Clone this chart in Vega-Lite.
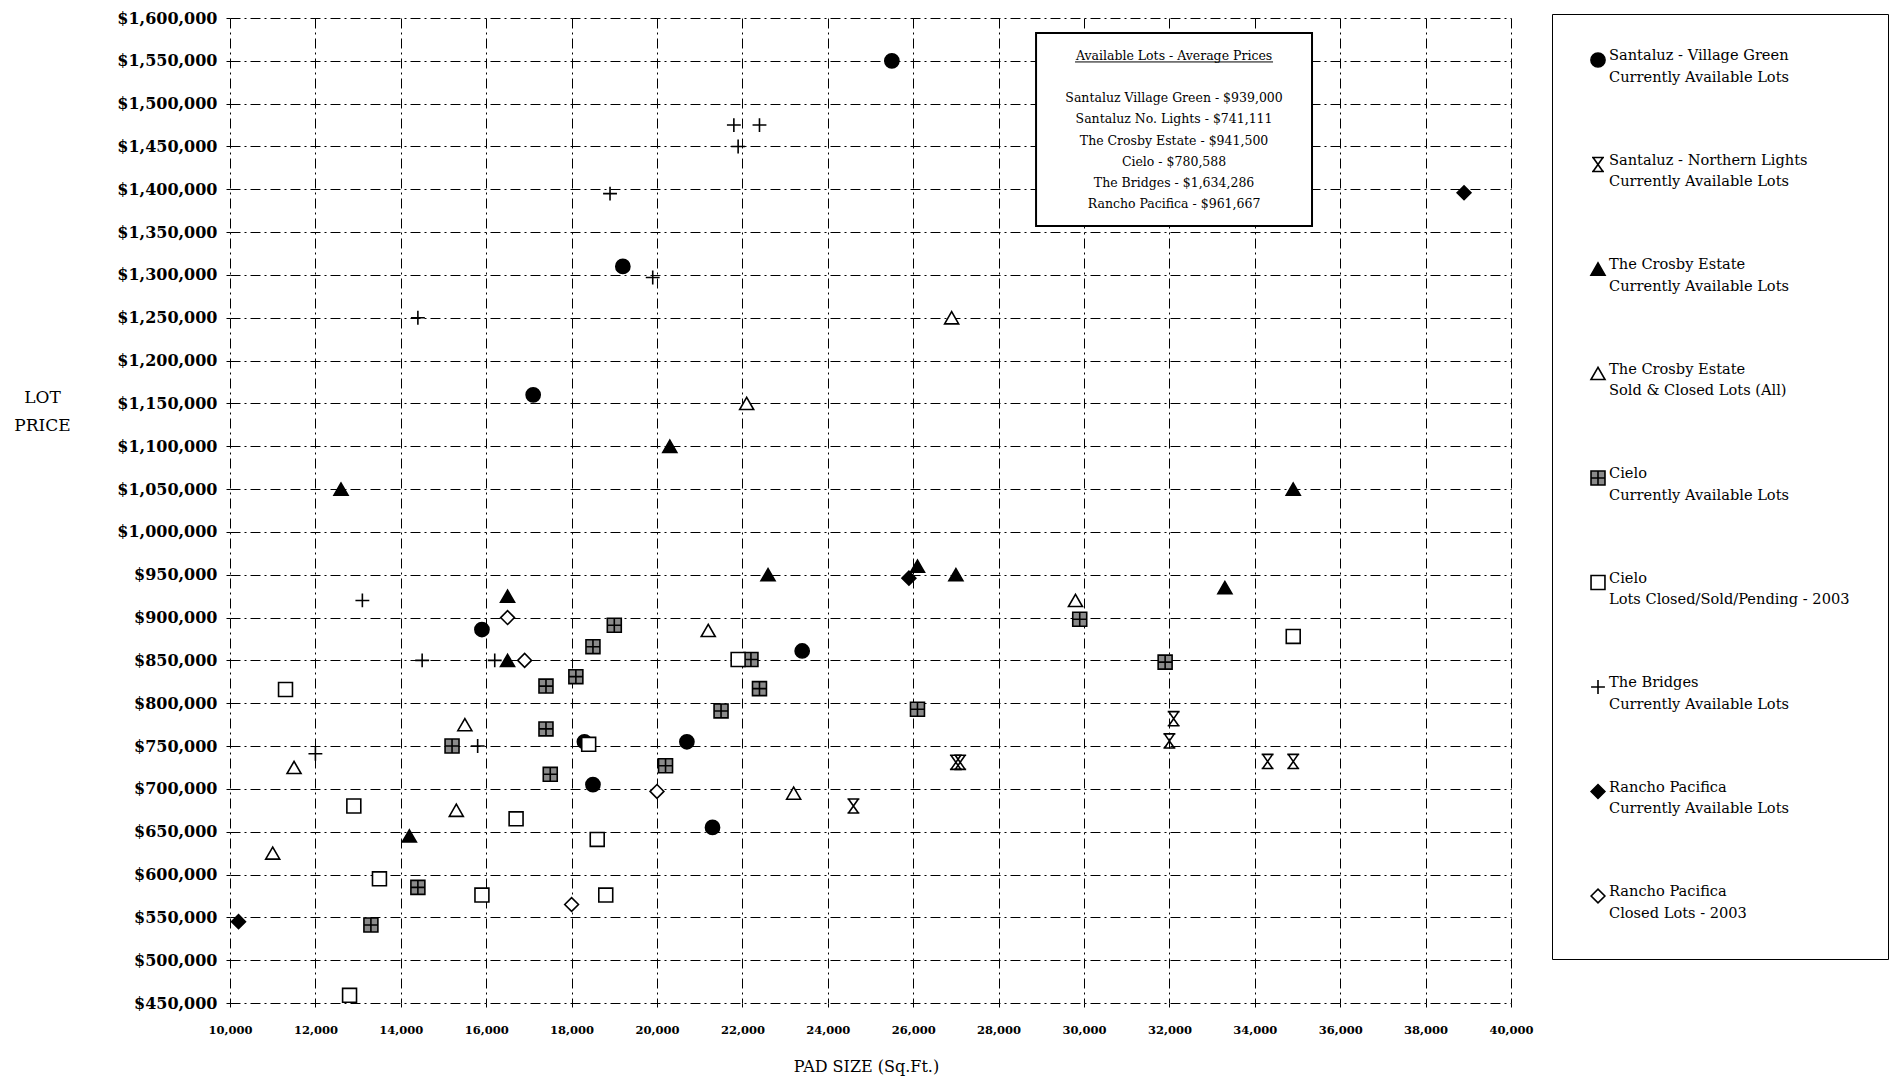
{
  "$schema": "https://vega.github.io/schema/vega-lite/v6.json",
  "width": 1281,
  "height": 985,
  "autosize": {"type": "none"},
  "padding": {"left": 230, "top": 18, "right": 387, "bottom": 78},
  "background": "white",
  "config": {
    "view": {"stroke": null},
    "font": "DejaVu Serif",
    "style": {"guide-label": {"lineHeight": 21.8}},
    "axis": {
      "grid": true,
      "gridColor": "black",
      "gridDash": [10, 4, 2, 4],
      "gridWidth": 1,
      "gridOpacity": 1,
      "domain": false,
      "tickColor": "black",
      "tickSize": 4,
      "labelColor": "black",
      "titleColor": "black",
      "labelFont": "DejaVu Serif",
      "titleFont": "DejaVu Serif",
      "titleFontWeight": "normal"
    }
  },
  "layer": [
    {
      "data": {"values": [{}]},
      "mark": {"type": "rect", "fill": "white", "stroke": "black", "strokeWidth": 2},
      "encoding": {
        "x": {"datum": 28877, "type": "quantitative"},
        "x2": {"datum": 35340},
        "y": {"datum": 1582500, "type": "quantitative"},
        "y2": {"datum": 1357300}
      }
    },
    {
      "data": {"values": [{}]},
      "mark": {"type": "text", "text": "Available Lots - Average Prices", "font": "DejaVu Serif", "fontSize": 12.5, "align": "center", "baseline": "middle", "color": "black"},
      "encoding": {
        "x": {"datum": 32109, "type": "quantitative"},
        "y": {"datum": 1555660, "type": "quantitative"}
      }
    },
    {
      "data": {"values": [{}]},
      "mark": {"type": "rule", "color": "black", "strokeWidth": 1},
      "encoding": {
        "x": {"datum": 29790, "type": "quantitative"},
        "x2": {"datum": 34427},
        "y": {"datum": 1548700, "type": "quantitative"}
      }
    },
    {
      "data": {"values": [{}]},
      "mark": {
        "type": "text",
        "text": ["Santaluz Village Green - $939,000", "Santaluz No. Lights - $741,111", "The Crosby Estate - $941,500", "Cielo - $780,588", "The Bridges - $1,634,286", "Rancho Pacifica - $961,667"],
        "lineHeight": 21.3,
        "font": "DejaVu Serif",
        "fontSize": 12.5,
        "align": "center",
        "baseline": "middle",
        "color": "black"
      },
      "encoding": {
        "x": {"datum": 32109, "type": "quantitative"},
        "y": {"datum": 1506600, "type": "quantitative"}
      }
    },
    {
      "data": {
        "values": [
          {"series": "Santaluz - Village Green|Currently Available Lots", "x": 25500, "y": 1550000},
          {"series": "Santaluz - Village Green|Currently Available Lots", "x": 19200, "y": 1310000},
          {"series": "Santaluz - Village Green|Currently Available Lots", "x": 17100, "y": 1160000},
          {"series": "Santaluz - Village Green|Currently Available Lots", "x": 15900, "y": 886000},
          {"series": "Santaluz - Village Green|Currently Available Lots", "x": 23400, "y": 861000},
          {"series": "Santaluz - Village Green|Currently Available Lots", "x": 18300, "y": 755000},
          {"series": "Santaluz - Village Green|Currently Available Lots", "x": 20700, "y": 755000},
          {"series": "Santaluz - Village Green|Currently Available Lots", "x": 18500, "y": 705000},
          {"series": "Santaluz - Village Green|Currently Available Lots", "x": 21300, "y": 655000},
          {"series": "Santaluz - Northern Lights|Currently Available Lots", "x": 32100, "y": 782000},
          {"series": "Santaluz - Northern Lights|Currently Available Lots", "x": 32000, "y": 756000},
          {"series": "Santaluz - Northern Lights|Currently Available Lots", "x": 27000, "y": 731000},
          {"series": "Santaluz - Northern Lights|Currently Available Lots", "x": 27100, "y": 731000},
          {"series": "Santaluz - Northern Lights|Currently Available Lots", "x": 34300, "y": 732000},
          {"series": "Santaluz - Northern Lights|Currently Available Lots", "x": 34900, "y": 732000},
          {"series": "Santaluz - Northern Lights|Currently Available Lots", "x": 24600, "y": 680000},
          {"series": "The Crosby Estate|Currently Available Lots", "x": 20300, "y": 1100000},
          {"series": "The Crosby Estate|Currently Available Lots", "x": 12600, "y": 1050000},
          {"series": "The Crosby Estate|Currently Available Lots", "x": 34900, "y": 1050000},
          {"series": "The Crosby Estate|Currently Available Lots", "x": 26100, "y": 960000},
          {"series": "The Crosby Estate|Currently Available Lots", "x": 22600, "y": 950000},
          {"series": "The Crosby Estate|Currently Available Lots", "x": 27000, "y": 950000},
          {"series": "The Crosby Estate|Currently Available Lots", "x": 33300, "y": 935000},
          {"series": "The Crosby Estate|Currently Available Lots", "x": 16500, "y": 925000},
          {"series": "The Crosby Estate|Currently Available Lots", "x": 16500, "y": 850000},
          {"series": "The Crosby Estate|Currently Available Lots", "x": 14200, "y": 645000},
          {"series": "The Crosby Estate|Sold & Closed Lots (All)", "x": 26900, "y": 1250000},
          {"series": "The Crosby Estate|Sold & Closed Lots (All)", "x": 22100, "y": 1150000},
          {"series": "The Crosby Estate|Sold & Closed Lots (All)", "x": 29800, "y": 920000},
          {"series": "The Crosby Estate|Sold & Closed Lots (All)", "x": 21200, "y": 885000},
          {"series": "The Crosby Estate|Sold & Closed Lots (All)", "x": 15500, "y": 775000},
          {"series": "The Crosby Estate|Sold & Closed Lots (All)", "x": 11500, "y": 725000},
          {"series": "The Crosby Estate|Sold & Closed Lots (All)", "x": 23200, "y": 695000},
          {"series": "The Crosby Estate|Sold & Closed Lots (All)", "x": 15300, "y": 675000},
          {"series": "The Crosby Estate|Sold & Closed Lots (All)", "x": 11000, "y": 625000},
          {"series": "Cielo|Currently Available Lots", "x": 19000, "y": 891000},
          {"series": "Cielo|Currently Available Lots", "x": 18500, "y": 866000},
          {"series": "Cielo|Currently Available Lots", "x": 18100, "y": 831000},
          {"series": "Cielo|Currently Available Lots", "x": 17400, "y": 820000},
          {"series": "Cielo|Currently Available Lots", "x": 17400, "y": 770000},
          {"series": "Cielo|Currently Available Lots", "x": 15200, "y": 750000},
          {"series": "Cielo|Currently Available Lots", "x": 20200, "y": 727000},
          {"series": "Cielo|Currently Available Lots", "x": 17500, "y": 717000},
          {"series": "Cielo|Currently Available Lots", "x": 14400, "y": 585000},
          {"series": "Cielo|Currently Available Lots", "x": 22200, "y": 851000},
          {"series": "Cielo|Currently Available Lots", "x": 22400, "y": 817000},
          {"series": "Cielo|Currently Available Lots", "x": 21500, "y": 791000},
          {"series": "Cielo|Currently Available Lots", "x": 29900, "y": 898000},
          {"series": "Cielo|Currently Available Lots", "x": 31900, "y": 848000},
          {"series": "Cielo|Currently Available Lots", "x": 26100, "y": 793000},
          {"series": "Cielo|Currently Available Lots", "x": 13300, "y": 541000},
          {"series": "Cielo|Lots Closed/Sold/Pending - 2003", "x": 11300, "y": 816000},
          {"series": "Cielo|Lots Closed/Sold/Pending - 2003", "x": 12900, "y": 680000},
          {"series": "Cielo|Lots Closed/Sold/Pending - 2003", "x": 16700, "y": 665000},
          {"series": "Cielo|Lots Closed/Sold/Pending - 2003", "x": 18600, "y": 641000},
          {"series": "Cielo|Lots Closed/Sold/Pending - 2003", "x": 13500, "y": 595000},
          {"series": "Cielo|Lots Closed/Sold/Pending - 2003", "x": 15900, "y": 576000},
          {"series": "Cielo|Lots Closed/Sold/Pending - 2003", "x": 18800, "y": 576000},
          {"series": "Cielo|Lots Closed/Sold/Pending - 2003", "x": 12800, "y": 459000},
          {"series": "Cielo|Lots Closed/Sold/Pending - 2003", "x": 21900, "y": 851000},
          {"series": "Cielo|Lots Closed/Sold/Pending - 2003", "x": 34900, "y": 878000},
          {"series": "Cielo|Lots Closed/Sold/Pending - 2003", "x": 18400, "y": 752000},
          {"series": "The Bridges|Currently Available Lots", "x": 21800, "y": 1475000},
          {"series": "The Bridges|Currently Available Lots", "x": 22400, "y": 1475000},
          {"series": "The Bridges|Currently Available Lots", "x": 21900, "y": 1450000},
          {"series": "The Bridges|Currently Available Lots", "x": 18900, "y": 1395000},
          {"series": "The Bridges|Currently Available Lots", "x": 19900, "y": 1297000},
          {"series": "The Bridges|Currently Available Lots", "x": 14400, "y": 1250000},
          {"series": "The Bridges|Currently Available Lots", "x": 13100, "y": 920000},
          {"series": "The Bridges|Currently Available Lots", "x": 14500, "y": 850000},
          {"series": "The Bridges|Currently Available Lots", "x": 16200, "y": 850000},
          {"series": "The Bridges|Currently Available Lots", "x": 15800, "y": 750000},
          {"series": "The Bridges|Currently Available Lots", "x": 12000, "y": 741000},
          {"series": "Rancho Pacifica|Currently Available Lots", "x": 38900, "y": 1396000},
          {"series": "Rancho Pacifica|Currently Available Lots", "x": 10200, "y": 545000},
          {"series": "Rancho Pacifica|Currently Available Lots", "x": 25900, "y": 946000},
          {"series": "Rancho Pacifica|Closed Lots - 2003", "x": 16500, "y": 900000},
          {"series": "Rancho Pacifica|Closed Lots - 2003", "x": 16900, "y": 850000},
          {"series": "Rancho Pacifica|Closed Lots - 2003", "x": 20000, "y": 697000},
          {"series": "Rancho Pacifica|Closed Lots - 2003", "x": 18000, "y": 565000}
        ]
      },
      "mark": {"type": "point", "filled": true, "stroke": "black", "strokeWidth": 1.6, "opacity": 1},
      "encoding": {
        "x": {
          "field": "x",
          "type": "quantitative",
          "scale": {"domain": [10000, 40000], "nice": false, "zero": false},
          "axis": {
            "grid": true,
            "values": [10000, 12000, 14000, 16000, 18000, 20000, 22000, 24000, 26000, 28000, 30000, 32000, 34000, 36000, 38000, 40000],
            "format": ",d",
            "labelFontSize": 11.5,
            "labelFontWeight": "bold",
            "labelPadding": 17,
            "labelFlush": false,
            "labelOverlap": false,
            "title": "PAD SIZE (Sq.Ft.)",
            "titleFontSize": 16,
            "titleX": 636,
            "titleY": 63,
            "titleAlign": "center",
            "titleBaseline": "middle"
          }
        },
        "y": {
          "field": "y",
          "type": "quantitative",
          "scale": {"domain": [450000, 1600000], "nice": false, "zero": false},
          "axis": {
            "grid": true,
            "values": [450000, 500000, 550000, 600000, 650000, 700000, 750000, 800000, 850000, 900000, 950000, 1000000, 1050000, 1100000, 1150000, 1200000, 1250000, 1300000, 1350000, 1400000, 1450000, 1500000, 1550000, 1600000],
            "format": "$,.0f",
            "labelFontSize": 16,
            "labelFontWeight": "bold",
            "labelPadding": 9,
            "labelFlush": false,
            "labelOverlap": false,
            "title": ["LOT", "PRICE"],
            "titleAngle": 0,
            "titleX": -188,
            "titleY": 379,
            "titleAlign": "center",
            "titleBaseline": "middle",
            "titleFontSize": 17,
            "titleLineHeight": 28
          }
        },
        "fill": {
          "field": "series",
          "type": "nominal",
          "scale": {
            "domain": ["Santaluz - Village Green|Currently Available Lots", "Santaluz - Northern Lights|Currently Available Lots", "The Crosby Estate|Currently Available Lots", "The Crosby Estate|Sold & Closed Lots (All)", "Cielo|Currently Available Lots", "Cielo|Lots Closed/Sold/Pending - 2003", "The Bridges|Currently Available Lots", "Rancho Pacifica|Currently Available Lots", "Rancho Pacifica|Closed Lots - 2003"],
            "range": ["black", "black", "black", "white", "#8a8a8a", "white", "black", "black", "white"]
          },
          "legend": {
            "title": null,
            "orient": "none",
            "legendX": 1322,
            "legendY": -4,
            "padding": 38,
            "strokeColor": "black",
            "labelFont": "DejaVu Serif",
            "labelFontSize": 14.6,
            "labelColor": "black",
            "labelLimit": 400,
            "labelOffset": 3,
            "labelBaseline": "alphabetic",
            "rowPadding": 67.5,
            "symbolStrokeColor": "black",
            "symbolStrokeWidth": 1.6,
            "labelExpr": "split(datum.label, '|')"
          }
        },
        "shape": {
          "field": "series",
          "type": "nominal",
          "scale": {
            "domain": ["Santaluz - Village Green|Currently Available Lots", "Santaluz - Northern Lights|Currently Available Lots", "The Crosby Estate|Currently Available Lots", "The Crosby Estate|Sold & Closed Lots (All)", "Cielo|Currently Available Lots", "Cielo|Lots Closed/Sold/Pending - 2003", "The Bridges|Currently Available Lots", "Rancho Pacifica|Currently Available Lots", "Rancho Pacifica|Closed Lots - 2003"],
            "range": ["circle", "M-0.85,-1H0.85M-0.85,1H0.85M-0.7,-1L0.7,1M0.7,-1L-0.7,1", "triangle-up", "triangle-up", "M-1,-1H1V1H-1ZM0,-1V1M-1,0H1", "square", "M-1,0H1M0,-1V1", "diamond", "diamond"]
          }
        },
        "size": {
          "field": "series",
          "type": "nominal",
          "scale": {
            "domain": ["Santaluz - Village Green|Currently Available Lots", "Santaluz - Northern Lights|Currently Available Lots", "The Crosby Estate|Currently Available Lots", "The Crosby Estate|Sold & Closed Lots (All)", "Cielo|Currently Available Lots", "Cielo|Lots Closed/Sold/Pending - 2003", "The Bridges|Currently Available Lots", "Rancho Pacifica|Currently Available Lots", "Rancho Pacifica|Closed Lots - 2003"],
            "range": [200, 190, 230, 230, 190, 200, 230, 120, 150]
          }
        }
      }
    }
  ]
}
